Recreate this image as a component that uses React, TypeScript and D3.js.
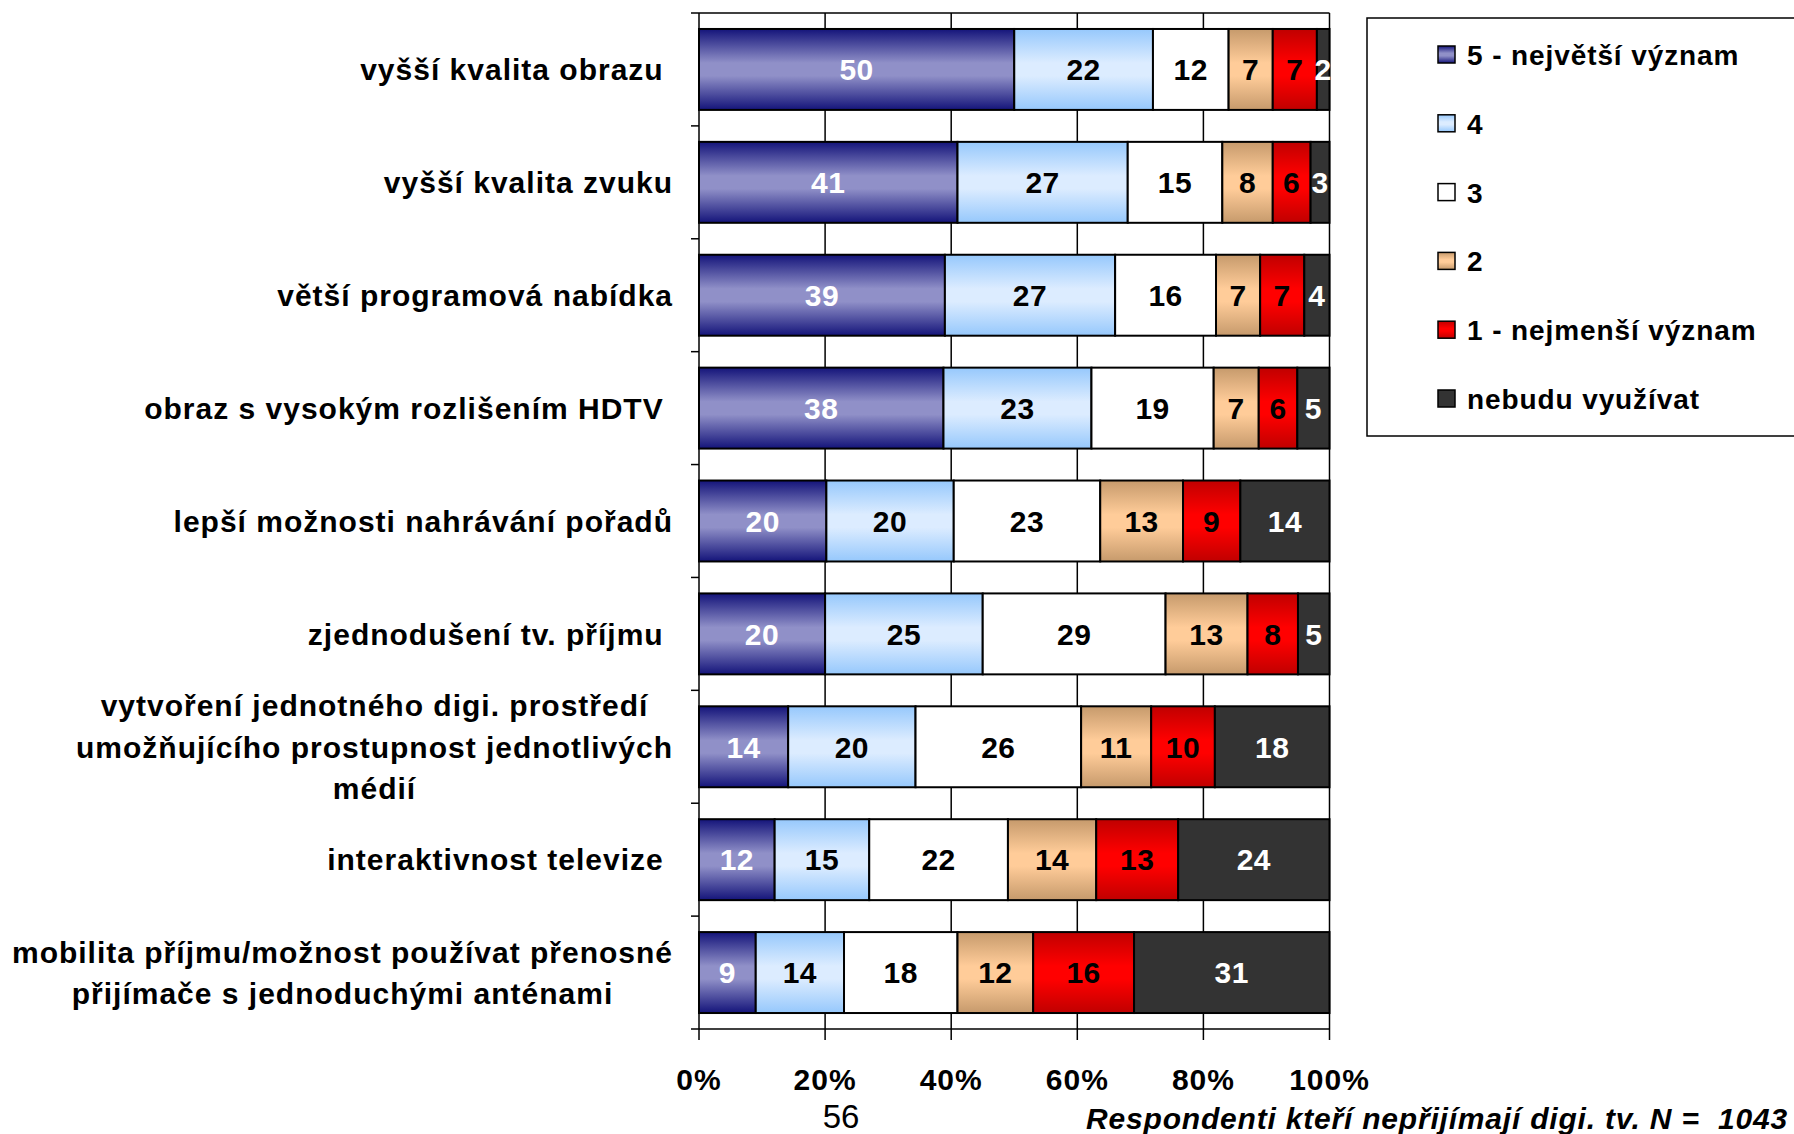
import React, { useEffect, useRef } from 'react';
import * as d3 from 'd3';

const categories = [
  'vyšší kvalita obrazu ',
  'vyšší kvalita zvuku',
  'větší programová nabídka',
  'obraz s vysokým rozlišením HDTV ',
  'lepší možnosti nahrávání pořadů',
  'zjednodušení tv. příjmu ',
  'vytvoření jednotného digi. prostředí\numožňujícího prostupnost jednotlivých\nmédií',
  'interaktivnost televize ',
  'mobilita příjmu/možnost používat přenosné\npřijímače s jednoduchými anténami',
];
const seriesNames = ['5 - největší význam', '4', '3', '2', '1 - nejmenší význam', 'nebudu využívat'];
const s5 = [50, 41, 39, 38, 20, 20, 14, 12, 9];
const s4 = [22, 27, 27, 23, 20, 25, 20, 15, 14];
const s3 = [12, 15, 16, 19, 23, 29, 26, 22, 18];
const s2 = [7, 8, 7, 7, 13, 13, 11, 14, 12];
const s1 = [7, 6, 7, 6, 9, 8, 10, 13, 16];
const sNo = [2, 3, 4, 5, 14, 5, 18, 24, 31];
const seriesValues = [s5, s4, s3, s2, s1, sNo];
const xTicks = [0, 0.2, 0.4, 0.6, 0.8, 1];
const pageNumber = '56';
const footnote = 'Respondenti kteří nepřijímají digi. tv. N =  1043';

const W = 1794;
const H = 1134;
const FONT = '"Liberation Sans", Arial, Helvetica, sans-serif';

const fills: { edge: string; center: string }[] = [
  { edge: '#14147a', center: '#9090c8' },
  { edge: '#96c8fc', center: '#dcecff' },
  { edge: '#ffffff', center: '#ffffff' },
  { edge: '#c69a6c', center: '#ffcc99' },
  { edge: '#c00000', center: '#ff0000' },
  { edge: '#333333', center: '#333333' },
];
const labelColors = ['#ffffff', '#000000', '#000000', '#000000', '#000000', '#ffffff'];

export default function App() {
  const ref = useRef<SVGSVGElement | null>(null);

  useEffect(() => {
    const svg = d3.select(ref.current);
    svg.selectAll('*').remove();

    const left = 699;
    const right = 1329.5;
    const top = 13;
    const bottom = 1029;

    const x = d3.scaleLinear().domain([0, 1]).range([left, right]);
    const y = d3
      .scaleBand<string>()
      .domain(categories)
      .range([top, bottom])
      .paddingInner(0.283)
      .paddingOuter(0.1415);

    const rows = categories.map((c, i) => {
      const o: any = { cat: c };
      seriesNames.forEach((s, j) => (o[s] = seriesValues[j][i]));
      return o;
    });
    const stack = d3.stack<any>().keys(seriesNames).offset(d3.stackOffsetExpand);
    const stacked = stack(rows);

    const defs = svg.append('defs');
    fills.forEach((f, i) => {
      const g = defs
        .append('linearGradient')
        .attr('id', 'grad' + i)
        .attr('x1', 0)
        .attr('y1', 0)
        .attr('x2', 0)
        .attr('y2', 1);
      g.append('stop').attr('offset', '0').attr('stop-color', f.edge);
      g.append('stop').attr('offset', '0.42').attr('stop-color', f.center);
      g.append('stop').attr('offset', '0.58').attr('stop-color', f.center);
      g.append('stop').attr('offset', '1').attr('stop-color', f.edge);
    });

    // gridlines
    svg
      .append('g')
      .selectAll('line')
      .data(xTicks.slice(1))
      .join('line')
      .attr('x1', (d) => x(d))
      .attr('x2', (d) => x(d))
      .attr('y1', top)
      .attr('y2', bottom)
      .attr('stroke', '#000')
      .attr('stroke-width', 1.5);
    svg
      .append('line')
      .attr('x1', left)
      .attr('x2', right)
      .attr('y1', top)
      .attr('y2', top)
      .attr('stroke', '#000')
      .attr('stroke-width', 1.5);

    // bars
    const layers = svg.append('g');
    stacked.forEach((layer, j) => {
      const g = layers.append('g');
      g.selectAll('rect')
        .data(layer)
        .join('rect')
        .attr('x', (d) => x(d[0]))
        .attr('width', (d) => x(d[1]) - x(d[0]))
        .attr('y', (d) => y(d.data.cat)!)
        .attr('height', y.bandwidth())
        .attr('fill', `url(#grad${j})`)
        .attr('stroke', '#000')
        .attr('stroke-width', 2);
    });
    stacked.forEach((layer, j) => {
      svg
        .append('g')
        .selectAll('text')
        .data(layer)
        .join('text')
        .attr('x', (d) => (x(d[0]) + x(d[1])) / 2)
        .attr('y', (d) => y(d.data.cat)! + y.bandwidth() / 2)
        .attr('dy', '0.36em')
        .attr('text-anchor', 'middle')
        .attr('font-family', FONT)
        .attr('font-weight', 'bold')
        .attr('font-size', 30)
        .attr('letter-spacing', 0.5)
        .attr('fill', labelColors[j])
        .text((d, i) => String(seriesValues[j][i]));
    });

    // axes
    const ax = svg.append('g').attr('stroke', '#000').attr('stroke-width', 1.5);
    ax.append('line').attr('x1', left).attr('x2', left).attr('y1', top).attr('y2', bottom);
    ax.append('line').attr('x1', left).attr('x2', right).attr('y1', bottom).attr('y2', bottom);
    const bounds = d3.range(categories.length + 1).map((i) => top + (i * (bottom - top)) / categories.length);
    ax.selectAll('line.yt')
      .data(bounds)
      .join('line')
      .attr('class', 'yt')
      .attr('x1', left - 8)
      .attr('x2', left)
      .attr('y1', (d) => d)
      .attr('y2', (d) => d);
    ax.selectAll('line.xt')
      .data(xTicks)
      .join('line')
      .attr('class', 'xt')
      .attr('x1', (d) => x(d))
      .attr('x2', (d) => x(d))
      .attr('y1', bottom)
      .attr('y2', bottom + 11);

    svg
      .append('g')
      .selectAll('text')
      .data(xTicks)
      .join('text')
      .attr('x', (d) => x(d))
      .attr('y', 1090)
      .attr('text-anchor', 'middle')
      .attr('font-family', FONT)
      .attr('font-weight', 'bold')
      .attr('font-size', 30)
      .attr('letter-spacing', 1)
      .text((d) => d3.format('.0%')(d));

    // category labels
    const labelRight = 673;
    const lineH = 41.7;
    categories.forEach((c) => {
      const lines = c.split('\n');
      const cy = y(c)! + y.bandwidth() / 2;
      const t = svg
        .append('text')
        .attr('font-family', FONT)
        .attr('font-weight', 'bold')
        .attr('font-size', 30)
        .attr('letter-spacing', 1)
        .attr('fill', '#000')
        .style('white-space', 'pre');
      if (lines.length === 1) {
        t.attr('x', labelRight)
          .attr('y', cy)
          .attr('dy', '0.36em')
          .attr('text-anchor', 'end')
          .text(c);
      } else {
        const tspans = lines.map((l, k) =>
          t
            .append('tspan')
            .attr('y', cy + (k - (lines.length - 1) / 2) * lineH)
            .attr('dy', '0.36em')
            .text(l)
        );
        let maxW = 0;
        tspans.forEach((ts) => {
          const n = ts.node() as SVGTSpanElement;
          maxW = Math.max(maxW, n.getComputedTextLength());
        });
        const cx = labelRight - maxW / 2;
        tspans.forEach((ts) => ts.attr('x', cx).attr('text-anchor', 'middle'));
      }
    });

    // legend
    const lg = svg.append('g');
    lg.append('rect')
      .attr('x', 1367)
      .attr('y', 18)
      .attr('width', 500)
      .attr('height', 418)
      .attr('fill', '#fff')
      .attr('stroke', '#000')
      .attr('stroke-width', 1.5);
    const legendY = d3.scalePoint<string>().domain(seriesNames).range([55, 399]);
    seriesNames.forEach((s, j) => {
      const cy = legendY(s)!;
      lg.append('rect')
        .attr('x', 1438)
        .attr('y', cy - 9)
        .attr('width', 17)
        .attr('height', 17)
        .attr('fill', `url(#grad${j})`)
        .attr('stroke', '#000')
        .attr('stroke-width', 1.5);
      lg.append('text')
        .attr('x', 1467)
        .attr('y', cy)
        .attr('dy', '0.36em')
        .attr('font-family', FONT)
        .attr('font-weight', 'bold')
        .attr('font-size', 28)
        .attr('letter-spacing', 0.9)
        .text(s);
    });

    // footer
    svg
      .append('text')
      .attr('x', 841)
      .attr('y', 1128)
      .attr('text-anchor', 'middle')
      .attr('font-family', FONT)
      .attr('font-size', 33)
      .text(pageNumber);
    svg
      .append('text')
      .attr('x', 1788)
      .attr('y', 1129)
      .attr('text-anchor', 'end')
      .attr('font-family', FONT)
      .attr('font-weight', 'bold')
      .attr('font-style', 'italic')
      .attr('font-size', 30)
      .attr('letter-spacing', 0.8)
      .style('white-space', 'pre')
      .text(footnote);
  }, []);

  return (
    <svg
      ref={ref}
      width={W}
      height={H}
      viewBox={`0 0 ${W} ${H}`}
      style={{ position: 'absolute', left: 0, top: 0, background: '#fff' }}
    />
  );
}
